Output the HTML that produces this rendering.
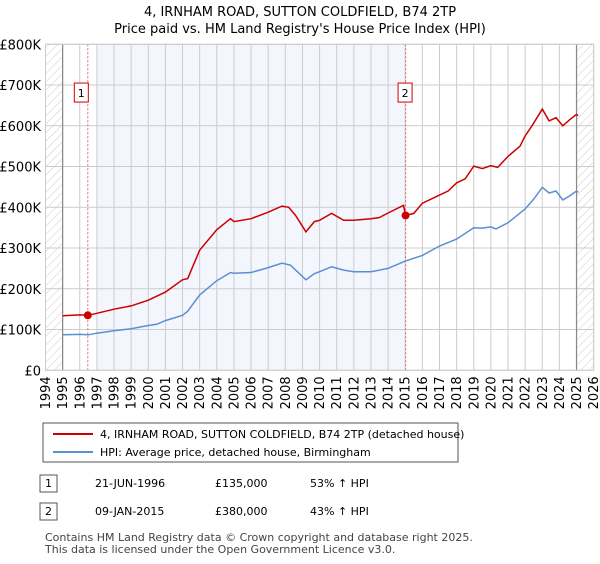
<!DOCTYPE html>
<html><head><meta charset="utf-8"><style>
body{margin:0;background:#fff;font-family:"DejaVu Sans","Liberation Sans",sans-serif;}
svg text{font-family:"DejaVu Sans","Liberation Sans",sans-serif;}
</style></head><body>
<svg id="c" width="600" height="560" xmlns="http://www.w3.org/2000/svg">
<defs><pattern id="h" width="6" height="6" patternUnits="userSpaceOnUse" patternTransform="rotate(45)"><line x1="0" y1="0" x2="0" y2="6" stroke="#ccc" stroke-width="1"/></pattern></defs>
<text x="300" y="16" text-anchor="middle" font-size="13">4, IRNHAM ROAD, SUTTON COLDFIELD, B74 2TP</text>
<text x="300" y="33" text-anchor="middle" font-size="13">Price paid vs. HM Land Registry's House Price Index (HPI)</text>
<g id="plot"></g>
<g>
<rect x="43" y="423" width="415" height="39" fill="#fff" stroke="#555"/>
<line x1="53" y1="434" x2="93" y2="434" stroke="#cc0000" stroke-width="2"/>
<text x="100" y="438" font-size="11">4, IRNHAM ROAD, SUTTON COLDFIELD, B74 2TP (detached house)</text>
<line x1="53" y1="452" x2="93" y2="452" stroke="#5b8fd4" stroke-width="2"/>
<text x="100" y="456" font-size="11">HPI: Average price, detached house, Birmingham</text>
</g>
<g font-size="11">
<rect x="40" y="475" width="17" height="17" fill="#fff" stroke="#555"/><text x="48.5" y="487" text-anchor="middle">1</text>
<text x="95" y="487">21-JUN-1996</text><text x="215" y="487">£135,000</text><text x="310" y="487">53% ↑ HPI</text>
<rect x="40" y="503" width="17" height="17" fill="#fff" stroke="#555"/><text x="48.5" y="515" text-anchor="middle">2</text>
<text x="95" y="515">09-JAN-2015</text><text x="215" y="515">£380,000</text><text x="310" y="515">43% ↑ HPI</text>
</g>
<text x="45" y="541" font-size="11" fill="#444">Contains HM Land Registry data © Crown copyright and database right 2025.</text>
<text x="45" y="553" font-size="11" fill="#444">This data is licensed under the Open Government Licence v3.0.</text>
</svg>
<script>
const yTicks=[0,100,200,300,400,500,600,700,800];
const yTickLabels=["£0","£100K","£200K","£300K","£400K","£500K","£600K","£700K","£800K"];
const years=[1994,1995,1996,1997,1998,1999,2000,2001,2002,2003,2004,2005,2006,2007,2008,2009,2010,2011,2012,2013,2014,2015,2016,2017,2018,2019,2020,2021,2022,2023,2024,2025,2026];
const hpiT=[1995,1996,1996.5,1997,1998,1999,2000,2000.5,2001,2002,2002.3,2003,2004,2004.8,2005,2006,2007,2007.8,2008.3,2009.2,2009.7,2010,2010.7,2011.4,2012,2013,2014,2015,2016,2017,2018,2019,2019.5,2020,2020.3,2021,2022,2022.5,2023,2023.4,2023.8,2024.2,2024.6,2025,2025.1];
const hpiV=[87,88,87,91,97,102,110,113,122,135,145,185,220,240,238,240,252,263,258,222,237,242,254,246,242,242,250,268,282,305,322,350,349,352,347,362,396,420,449,435,440,418,428,440,437];
const priceT=[1995,1996,1996.47,1997,1998,1999,2000,2001,2002,2002.3,2003,2004,2004.8,2005,2006,2007,2007.8,2008.2,2008.6,2009.2,2009.7,2010,2010.7,2011.4,2012,2013,2013.5,2014,2014.9,2015.02,2015.5,2016,2017,2017.5,2018,2018.5,2019,2019.5,2020,2020.4,2021,2021.7,2022,2022.4,2023,2023.4,2023.8,2024.2,2024.6,2025,2025.1];
const priceV=[134,136,135,140,150,158,172,192,222,225,295,345,372,365,372,388,403,400,380,340,365,368,385,368,368,372,375,386,405,380,385,410,430,440,460,470,501,495,502,498,525,550,575,600,641,612,620,600,615,628,625];
const saleT=[1996.47,2015.02];
const saleV=[135,380];
const saleLabels=["1","2"];
const NS="http://www.w3.org/2000/svg";
const X0=45.5,XW=17.13,Y0=370.3,YK=0.4075;
const xs=t=>X0+(t-1994)*XW, ys=v=>Y0-v*YK;
const g=document.getElementById('plot');
function mk(tag,attrs,parent){const e=document.createElementNS(NS,tag);for(const k in attrs)e.setAttribute(k,attrs[k]);(parent||g).appendChild(e);return e;}
let r=mk('rect',{x:xs(1997),y:ys(800),width:xs(saleT[1])-xs(1997),height:ys(0)-ys(800),fill:'#f3f6fd'});


r=mk('rect',{x:xs(1994),y:ys(800),width:xs(1995)-xs(1994),height:ys(0)-ys(800),fill:'url(#h)'});


r=mk('rect',{x:xs(2025),y:ys(800),width:xs(2026)-xs(2025),height:ys(0)-ys(800),fill:'url(#h)'});


years.forEach(y=>{
 const l=mk('line',{x1:xs(y),x2:xs(y),y1:ys(0),y2:ys(800),stroke:'#ccc'});
 
 
 const t=mk('text',{x:0,y:0,'font-size':13,'text-anchor':'end',transform:`translate(${xs(y)+4.5},${ys(0)+6}) rotate(-90)`});
 t.textContent=y;
 
 
});
yTicks.forEach((v,i)=>{
 const l=mk('line',{x1:xs(1994),x2:xs(2026),y1:ys(v),y2:ys(v),stroke:'#ccc'});
 
 
 const t=mk('text',{x:41,y:ys(v)+5,'font-size':13,'text-anchor':'end'});
 t.textContent=yTickLabels[i];
 
 
});
[1995,2025].forEach(y=>{const l=mk('line',{x1:xs(y),x2:xs(y),y1:ys(0),y2:ys(800),stroke:'#888','stroke-width':1.2});

});
saleT.forEach((t,i)=>{
 const l=mk('line',{x1:xs(t),x2:xs(t),y1:ys(0),y2:ys(800),stroke:'#e06666','stroke-dasharray':'2,2'});
 
 
 const b=mk('rect',{x:xs(t)-13+(i==0?-1:0)-(i==0?0:-1),y:ys(700)-0,width:14,height:19,fill:'#fff',stroke:'#cc0000'});
 b.setAttribute('x',xs(t)-(i==0?10.5+3:10.5+0)+ (i==0?0:3));
 b.setAttribute('y',ys(700)-2);
 
 
 const tx=mk('text',{x:+b.getAttribute('x')+7,y:ys(700)+12,'font-size':11,'text-anchor':'middle'});
 tx.textContent=saleLabels[i];
 
 
});
function path(T,V,col,name){const p=mk('path',{d:T.map((t,i)=>(i?'L':'M')+xs(t).toFixed(1)+','+ys(V[i]).toFixed(1)).join(''),fill:'none',stroke:col,'stroke-width':1.5});

}
path(hpiT,hpiV,'#5b8fd4','hpi-line');
path(priceT,priceV,'#cc0000','price-line');
saleT.forEach((t,i)=>{const c=mk('circle',{cx:xs(t),cy:ys(saleV[i]),r:4,fill:'#cc0000'});

});
const bd=mk('rect',{x:xs(1994),y:ys(800),width:xs(2026)-xs(1994),height:ys(0)-ys(800),fill:'none',stroke:'#ccc'});


</script>
</body></html>
